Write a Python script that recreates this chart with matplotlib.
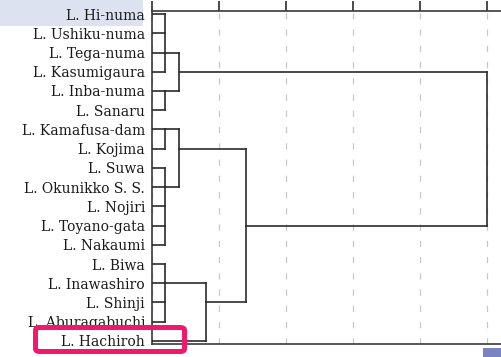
import matplotlib.pyplot as plt
from matplotlib.patches import Rectangle, FancyBboxPatch

# leaves, top to bottom
leaves = ['L. Hi-numa', 'L. Ushiku-numa', 'L. Tega-numa', 'L. Kasumigaura',
          'L. Inba-numa', 'L. Sanaru', 'L. Kamafusa-dam', 'L. Kojima',
          'L. Suwa', 'L. Okunikko S. S.', 'L. Nojiri', 'L. Toyano-gata',
          'L. Nakaumi', 'L. Biwa', 'L. Inawashiro', 'L. Shinji',
          'L. Aburagabuchi', 'L. Hachiroh']

# clusters: members (leaf index or cluster name), merge distance, row the link leaves from
cluster_names = ['A', 'B', 'AB', 'C', 'D', 'CD', 'E', 'EH', 'CDEH', 'root']
cluster_members = [[0, 1, 2, 3], [4, 5], ['A', 'B'], [6, 7], [8, 9, 10, 11, 12],
                   ['C', 'D'], [13, 14, 15, 16], ['E', 17], ['CD', 'EH'], ['AB', 'CDEH']]
cluster_heights = [0.2, 0.2, 0.4, 0.2, 0.2, 0.4, 0.2, 0.8, 1.4, 5.0]
cluster_rows = [2, 4, 3, 6, 9, 7, 14, 15, 11, 7]

line_color = '#2b2b2b'

fig = plt.figure(figsize=(5.01, 3.57), dpi=100)

# slide decorations
fig.add_artist(Rectangle((0, 0.927), 0.2854, 0.073, transform=fig.transFigure,
                         facecolor='#dde2f0', edgecolor='none', zorder=-1))
fig.add_artist(Rectangle((0.964, 0), 0.036, 0.025, transform=fig.transFigure,
                         facecolor='#7a84c1', edgecolor='none', zorder=-1))

ax = fig.add_axes([0.3034, 0.0364, 0.6966, 0.9328])
ax.set_facecolor('none')

pos = {i: (0.0, i) for i in range(len(leaves))}
for name, members, h, row in zip(cluster_names, cluster_members, cluster_heights, cluster_rows):
    ys = [pos[m][1] for m in members]
    ax.plot([h, h], [min(ys), max(ys)], color=line_color, lw=1.2, zorder=3)
    for m in members:
        x0, y0 = pos[m]
        ax.plot([x0, h], [y0, y0], color=line_color, lw=1.2, zorder=3)
    pos[name] = (h, row)

ax.set_xlim(0, 5.21)
ax.set_ylim(len(leaves) - 1 + 0.16, -0.16)

ax.set_yticks(range(len(leaves)))
ax.set_yticklabels(leaves, family='DejaVu Serif', fontsize=10, color='#1a1a1a')
ax.tick_params(axis='y', length=0, pad=5)

ax.xaxis.tick_top()
ax.set_xticks([0, 1, 2, 3, 4, 5])
ax.tick_params(axis='x', direction='out', length=7, width=1.2, color=line_color,
               labeltop=False, labelbottom=False)
ax.grid(axis='x', linestyle=(0, (5, 8)), color='#c8c8c8', lw=0.9, zorder=0)

for side in ['top', 'left', 'bottom']:
    ax.spines[side].set_color('#3a3a3a')
    ax.spines[side].set_linewidth(1.2)
ax.spines['right'].set_visible(False)

# highlight box around L. Hachiroh
fig.add_artist(FancyBboxPatch((0.0709, 0.0154), 0.2974, 0.0672,
                              boxstyle='round,pad=0,rounding_size=0.008',
                              transform=fig.transFigure, facecolor='none',
                              edgecolor='#f0196b', lw=3.6, zorder=5))

fig.savefig('out.png', dpi=100)
